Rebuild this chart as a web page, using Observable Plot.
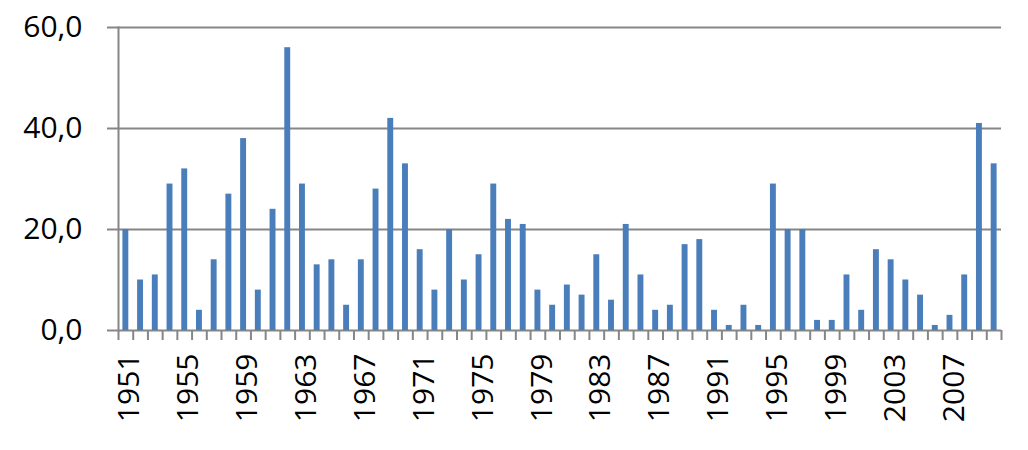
<!DOCTYPE html>
<html><head><meta charset="utf-8">
<script src="https://cdn.jsdelivr.net/npm/d3@7"></script>
<script src="https://cdn.jsdelivr.net/npm/@observablehq/plot@0.6"></script>
<style>body{margin:0;background:#fff}</style>
</head><body><div id="chart"></div>
<script>
const years = [1951,1952,1953,1954,1955,1956,1957,1958,1959,1960,
  1961,1962,1963,1964,1965,1966,1967,1968,1969,1970,
  1971,1972,1973,1974,1975,1976,1977,1978,1979,1980,
  1981,1982,1983,1984,1985,1986,1987,1988,1989,1990,
  1991,1992,1993,1994,1995,1996,1997,1998,1999,2000,
  2001,2002,2003,2004,2005,2006,2007,2008,2009,2010];
const values = [20,10,11,29,32,4,14,27,38,8,
  24,56,29,13,14,5,14,28,42,33,
  16,8,20,10,15,29,22,21,8,5,
  9,7,15,6,21,11,4,5,17,18,
  4,1,5,1,29,20,20,2,2,11,
  4,16,14,10,7,1,3,11,41,33];
const labelYears = [1951,1955,1959,1963,1967,1971,1975,1979,1983,1987,1991,1995,1999,2003,2007];
const yTicks = [0,20,40,60];

const data = years.map((year, i) => ({year, value: values[i]}));
const boundaries = [...years, years[years.length - 1] + 1];
const gray = "#868686";
const fmt = d => d.toFixed(1).replace(".", ",");

const chart = Plot.plot({
  width: 1028,
  height: 450,
  marginLeft: 118,
  marginRight: 27,
  marginTop: 27,
  marginBottom: 120,
  style: {fontFamily: "'Open Sans', sans-serif", fontSize: "30px", color: "black", background: "#fff"},
  x: {type: "linear", domain: [boundaries[0], boundaries[boundaries.length - 1]], axis: null},
  y: {domain: [0, 60], axis: null},
  marks: [
    Plot.gridY(yTicks, {stroke: gray, strokeOpacity: 1, strokeWidth: 2}),
    Plot.rectY(data, {x1: "year", x2: d => d.year + 1, y: "value", fill: "#4a7ebb", insetLeft: 4.4, insetRight: 4.4}),
    Plot.frame({anchor: "left", stroke: gray, strokeWidth: 2}),
    Plot.axisY(yTicks, {label: null, tickSize: 11, tickPadding: 25, tickFormat: fmt, fontSize: 30, stroke: gray, strokeWidth: 2, fill: "black"}),
    Plot.axisX(boundaries, {label: null, tickSize: 10, tickFormat: () => "", stroke: gray, strokeWidth: 2}),
    Plot.axisX(labelYears.map(d => d + 0.5), {label: null, tickSize: 0, tickPadding: 23, tickRotate: -90, dx: 4, tickFormat: d => String(d - 0.5), fontSize: 30, fill: "black"})
  ]
});
document.getElementById("chart").appendChild(chart);
</script>
</body></html>
